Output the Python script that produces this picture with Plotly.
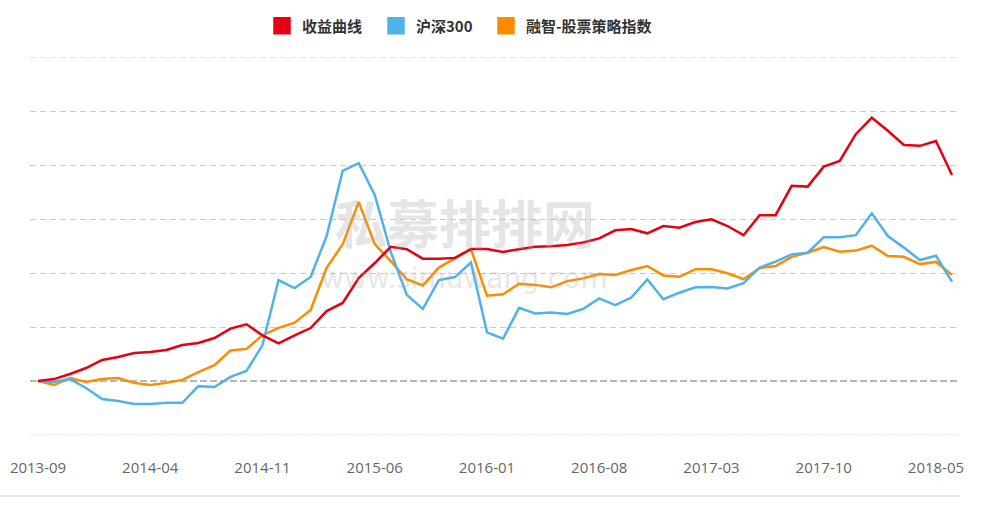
import plotly.graph_objects as go

# monthly categories 2013-09 .. 2018-06
months = []
y, m = 2013, 9
for _ in range(58):
    months.append(f"{y}-{m:02d}")
    m += 1
    if m > 12:
        m = 1
        y += 1

tick_labels = ["2013-09", "2014-04", "2014-11", "2015-06", "2016-01",
               "2016-08", "2017-03", "2017-10", "2018-05"]

# 收益曲线 (cumulative return, %)
fund = [0, 0.7, 2.6, 4.8, 7.8, 8.9, 10.4, 10.7, 11.5, 13.3,
        14.1, 15.9, 19.4, 21.0, 16.9, 13.9, 16.9, 19.6, 25.9, 28.9,
        38.1, 43.7, 49.7, 48.8, 45.3, 45.3, 45.6, 48.9, 48.9, 47.8,
        48.8, 49.7, 49.9, 50.4, 51.3, 52.8, 55.8, 56.3, 54.7, 57.4,
        56.8, 58.9, 59.9, 57.4, 54.0, 61.4, 61.4, 72.3, 72.0, 79.4,
        81.5, 91.4, 97.5, 92.7, 87.4, 87.1, 88.9, 76.3]

# 沪深300
hs300 = [0, -0.4, 0.7, -2.6, -6.7, -7.4, -8.5, -8.5, -8.1, -8.1,
         -1.9, -2.2, 1.5, 3.7, 13.3, 37.4, 34.4, 38.5, 53.7, 77.8,
         80.7, 68.9, 47.8, 31.9, 26.7, 37.4, 38.5, 43.9, 18.0, 15.7,
         27.1, 25.0, 25.4, 24.8, 26.7, 30.6, 28.1, 30.9, 37.6, 30.3,
         32.7, 34.7, 34.8, 34.3, 36.2, 42.0, 44.2, 46.9, 47.5, 53.2,
         53.2, 54.0, 62.1, 53.7, 49.4, 44.8, 46.4, 36.8]

# 融智-股票策略指数
rz_index = [0, -1.5, 1.1, -0.4, 0.7, 1.1, -0.7, -1.5, -0.7, 0.4,
            3.3, 5.9, 11.3, 11.9, 16.9, 19.7, 21.6, 26.3, 41.9, 50.7,
            66.3, 50.7, 44.4, 37.7, 35.4, 42.0, 45.4, 48.8, 31.6, 32.1,
            36.0, 35.6, 34.7, 37.0, 38.0, 39.6, 39.3, 41.1, 42.6, 39.1,
            38.6, 41.4, 41.4, 39.9, 37.7, 41.8, 42.6, 46.0, 47.5, 49.6,
            47.9, 48.3, 50.1, 46.3, 46.0, 43.3, 44.1, 39.3]

series_names = ["收益曲线", "沪深300", "融智-股票策略指数"]
series_colors = ["#e60012", "#4fb3ea", "#ff8c00"]
series_values = [fund, hs300, rz_index]
legend_ids = ["legend", "legend2", "legend3"]
legend_left_px = [262, 376, 486]   # left edge of each legend entry (page px)

fig = go.Figure()

# lines (drawn in reverse so red is on top)
for name, color, vals in reversed(list(zip(series_names, series_colors, series_values))):
    fig.add_trace(go.Scatter(
        x=months, y=vals, mode="lines", name=name,
        line=dict(color=color, width=2.5), showlegend=False,
        hoverinfo="x+y+name"))

# legend entries with square markers
for name, color, lid in zip(series_names, series_colors, legend_ids):
    fig.add_trace(go.Scatter(
        x=[None], y=[None], mode="markers", name=name, legend=lid,
        marker=dict(symbol="square", size=16, color=color,
                    line=dict(color=color, width=1.5)),
        showlegend=True))

# watermark
fig.add_annotation(text="<b>私募排排网</b>", x=0.4677, y=(435 - 221) / 378,
                   xref="paper", yref="paper",
                   showarrow=False, font=dict(family="Noto Sans CJK SC", size=52,
                                              color="rgba(170,170,170,0.30)"))
fig.add_annotation(text="www.simuwang.com", x=0.4677, y=(435 - 278) / 378,
                   xref="paper", yref="paper",
                   showarrow=False, font=dict(family="DejaVu Sans", size=28,
                                              color="rgba(170,170,170,0.30)"))

# top grid line
fig.add_shape(type="line", xref="paper", yref="y", x0=0, x1=1, y0=120, y1=120,
              line=dict(color="#cccccc", width=1, dash="6px,4px"), layer="below")
# zero line (darker dashed)
fig.add_shape(type="line", xref="paper", yref="y", x0=0, x1=1, y0=0, y1=0,
              line=dict(color="#a0a0a0", width=1.6, dash="7px,3px"), layer="below")
# bottom boundary line of grid
fig.add_shape(type="line", xref="paper", yref="y", x0=0, x1=1, y0=-20, y1=-20,
              line=dict(color="#e2e2e2", width=1.2, dash="7px,2px"), layer="below")
# outer bottom rule
fig.add_shape(type="line", xref="paper", yref="paper", x0=-30 / 930, x1=1,
              y0=-61 / 378, y1=-61 / 378,
              line=dict(color="#cccccc", width=1))

legend_common = dict(orientation="h", xanchor="left",
                     y=(435 - 26) / 378, yanchor="middle",
                     font=dict(family="Noto Sans CJK SC", size=15, color="#333333",
                               weight="bold"),
                     itemwidth=30, bgcolor="rgba(0,0,0,0)")
legends = {}
for lid, left in zip(legend_ids, legend_left_px):
    legends[lid] = dict(legend_common, x=(left - 30) / 930)

fig.update_layout(
    width=982, height=505,
    margin=dict(l=30, r=22, t=57, b=70, autoexpand=False),
    paper_bgcolor="white", plot_bgcolor="white",
    showlegend=True,
    **legends,
    xaxis=dict(type="category", range=[-0.5, 57.5], showgrid=False, zeroline=False,
               showline=False, ticks="", tickmode="array", tickvals=tick_labels,
               ticktext=tick_labels, ticklabelstandoff=22,
               tickfont=dict(family="Open Sans", size=15, color="#666666")),
    yaxis=dict(range=[-20, 120], tickmode="array", tickvals=[20, 40, 60, 80, 100],
               showticklabels=False, showgrid=True, gridcolor="#cccccc", gridwidth=1,
               griddash="6px,4px", zeroline=False, showline=False, ticks=""),
)

fig.write_html("out.html")
